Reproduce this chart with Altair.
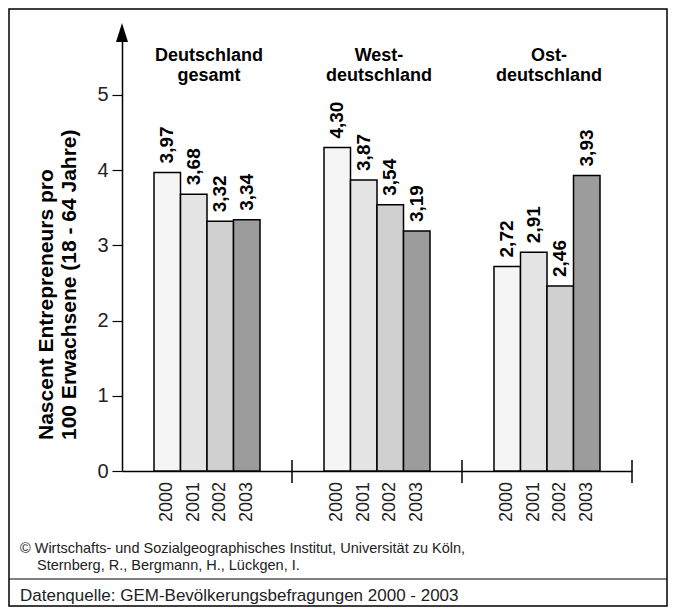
import altair as alt
import pandas as pd

groups = ["Deutschland gesamt", "Westdeutschland", "Ostdeutschland"]
group_titles = ["Deutschland\ngesamt", "West-\ndeutschland", "Ost-\ndeutschland"]
years = ["2000", "2001", "2002", "2003"]
values_de = [3.97, 3.68, 3.32, 3.34]
values_west = [4.30, 3.87, 3.54, 3.19]
values_ost = [2.72, 2.91, 2.46, 3.93]
year_colors = ["#f5f5f5", "#e4e4e4", "#d0d0d0", "#9c9c9c"]
y_ticks = [0, 1, 2, 3, 4, 5]
y_title = "Nascent Entrepreneurs pro\n100 Erwachsene (18 - 64 Jahre)"
credit_1 = "© Wirtschafts- und Sozialgeographisches Institut, Universität zu Köln,"
credit_2 = "Sternberg, R., Bergmann, H., Lückgen, I."
source = "Datenquelle: GEM-Bevölkerungsbefragungen 2000 - 2003"

rows = []
for g, vals in zip(groups, [values_de, values_west, values_ost]):
    for yr, v in zip(years, vals):
        rows.append({"group": g, "year": yr, "value": v,
                     "label": f"{v:.2f}".replace(".", ",")})
df = pd.DataFrame(rows)
titles_df = pd.DataFrame({"group": groups, "title": group_titles})
one = pd.DataFrame({"a": [0]})

W, H = 510, 441
ymax = 5.864

x_scale = alt.Scale(domain=groups, paddingInner=0, paddingOuter=0)
x_axis = alt.Axis(labels=False, ticks=False, title=None, domain=True, grid=False,
                  domainColor="black", domainWidth=1.5)
x_enc = alt.X("group:N", sort=groups, scale=x_scale, axis=x_axis)
xoff = alt.XOffset("year:N", sort=years,
                   scale=alt.Scale(domain=years, paddingInner=0, paddingOuter=0,
                                   range=[32, 138]))
y_scale = alt.Scale(domain=[0, ymax], nice=False, zero=True)
y_axis = alt.Axis(values=y_ticks, format="d", title=None, grid=False,
                  domainColor="black", domainWidth=1.5, tickColor="black",
                  tickSize=10, tickWidth=1.2, labelFontSize=20,
                  labelColor="#222222", labelPadding=4)
y_enc = alt.Y("value:Q", scale=y_scale, axis=y_axis)

bars = alt.Chart(df).mark_bar(stroke="black", strokeWidth=1.5).encode(
    x=x_enc, xOffset=xoff, y=y_enc,
    fill=alt.Fill("year:N", scale=alt.Scale(domain=years, range=year_colors), legend=None),
)

value_labels = alt.Chart(df).mark_text(
    angle=270, align="left", baseline="middle", dx=9, fontSize=19,
    fontWeight="bold", color="black"
).encode(x=x_enc, xOffset=xoff, y=y_enc, text="label:N")

year_labels = alt.Chart(df).mark_text(
    angle=270, align="right", baseline="middle", dx=-11, fontSize=18, color="#222222"
).encode(x=x_enc, xOffset=xoff, y=alt.datum(0, scale=y_scale, axis=y_axis), text="year:N")

group_title_marks = alt.Chart(titles_df).mark_text(
    lineBreak="\n", fontSize=18, fontWeight="bold", align="center",
    baseline="alphabetic", lineHeight=20, color="black", dx=2
).encode(x=x_enc, y=alt.value(31), text="title:N")

sep_df = pd.DataFrame({"group": ["Westdeutschland", "Ostdeutschland"]})
end_df = pd.DataFrame({"group": ["Ostdeutschland"]})
sep_rules = alt.Chart(sep_df).mark_rule(color="black", strokeWidth=1.5).encode(
    x=alt.X("group:N", sort=groups, scale=x_scale, axis=x_axis, bandPosition=0),
    y=alt.value(430), y2=alt.value(453))
end_rule = alt.Chart(end_df).mark_rule(color="black", strokeWidth=1.5).encode(
    x=alt.X("group:N", sort=groups, scale=x_scale, axis=x_axis, bandPosition=1),
    y=alt.value(430), y2=alt.value(453))

arrow = alt.Chart(one).mark_point(
    shape="M0,-1L0.63,1L-0.63,1Z", size=361, filled=True, color="black", opacity=1
).encode(x=alt.value(0), y=alt.value(2.5))

ytitle_mark = alt.Chart(pd.DataFrame({"t": [y_title]})).mark_text(
    angle=270, align="left", baseline="alphabetic", lineBreak="\n", lineHeight=23,
    fontSize=21, fontWeight="bold", color="black"
).encode(x=alt.value(-69), y=alt.value(410), text="t:N")

border = alt.Chart(one).mark_rect(
    fill="white", fillOpacity=0, stroke="black", strokeWidth=1.5
).encode(x=alt.value(-113), x2=alt.value(545), y=alt.value(-21), y2=alt.value(576))

sep_line = alt.Chart(one).mark_rule(color="black", strokeWidth=1.2).encode(
    x=alt.value(-113), x2=alt.value(545), y=alt.value(549))

credit1_mark = alt.Chart(pd.DataFrame({"t": [credit_1]})).mark_text(
    align="left", baseline="alphabetic", fontSize=14.5, color="#222222"
).encode(x=alt.value(-102), y=alt.value(523), text="t:N")
credit2_mark = alt.Chart(pd.DataFrame({"t": [credit_2]})).mark_text(
    align="left", baseline="alphabetic", fontSize=14.5, color="#222222"
).encode(x=alt.value(-85), y=alt.value(540), text="t:N")
source_mark = alt.Chart(pd.DataFrame({"t": [source]})).mark_text(
    align="left", baseline="alphabetic", fontSize=17, color="#222222"
).encode(x=alt.value(-102), y=alt.value(571), text="t:N")

chart = alt.layer(
    border, bars, value_labels, year_labels, group_title_marks, sep_rules, end_rule,
    arrow, ytitle_mark, sep_line, credit1_mark, credit2_mark, source_mark
).properties(
    width=W, height=H,
    autosize=alt.AutoSizeParams(type="none"),
    padding={"left": 114, "top": 22, "right": 36, "bottom": 136},
    background="white",
).configure(font="Liberation Sans").configure_view(
    stroke="transparent", strokeWidth=0).configure_axis(grid=False)

chart.save("out.html", embed_options={"renderer": "svg", "actions": False})
